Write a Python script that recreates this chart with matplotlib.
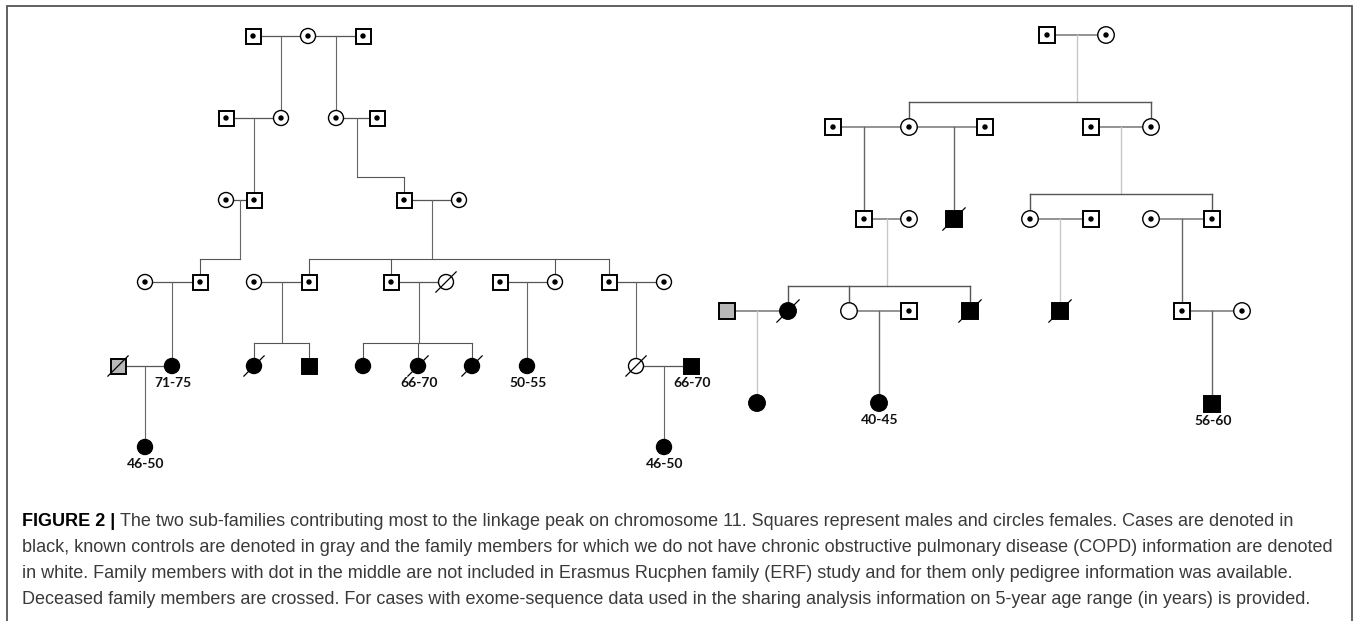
import matplotlib
matplotlib.use('Agg')
import matplotlib.pyplot as plt
from matplotlib.patches import Rectangle, Circle

W, H = 1357, 621

# --- pedigree data -------------------------------------------------------
# status: 'dot' = not in ERF study, 'case', 'control', 'unknown'
person_ids = ['a1', 'a2', 'a3', 'b1', 'b2', 'b3', 'b4', 'c1', 'c2', 'c3', 'c4',
              'd1', 'd2', 'd3', 'd4', 'd5', 'd6', 'd7', 'd8', 'd9', 'd10',
              'e1', 'e2', 'e3', 'e4', 'e5', 'e6', 'e7', 'e8', 'e9', 'e10', 'f1', 'f2',
              'g1', 'g2', 'h1', 'h2', 'h3', 'h4', 'h5',
              'i1', 'i2', 'i3', 'i4', 'i5', 'i6', 'i7',
              'j1', 'j2', 'j3', 'j4', 'j5', 'j6', 'j7', 'j8', 'k1', 'k2', 'k3']
person_sex = ['m', 'f', 'm', 'm', 'f', 'f', 'm', 'f', 'm', 'm', 'f',
              'f', 'm', 'f', 'm', 'm', 'f', 'm', 'f', 'm', 'f',
              'm', 'f', 'f', 'm', 'f', 'f', 'f', 'f', 'f', 'm', 'f', 'f',
              'm', 'f', 'm', 'f', 'm', 'm', 'f',
              'm', 'f', 'm', 'f', 'm', 'f', 'm',
              'm', 'f', 'f', 'm', 'm', 'm', 'm', 'f', 'f', 'f', 'm']
person_status = ['dot'] * 16 + ['unknown'] + ['dot'] * 4 + \
                ['control', 'case', 'case', 'case', 'case', 'case', 'case', 'case',
                 'unknown', 'case', 'case', 'case'] + \
                ['dot'] * 7 + \
                ['dot', 'dot', 'case', 'dot', 'dot', 'dot', 'dot'] + \
                ['control', 'case', 'unknown', 'dot', 'case', 'case', 'dot', 'dot',
                 'case', 'case', 'case']
deceased = ['d6', 'e1', 'e3', 'e6', 'e7', 'e9', 'i3', 'j2', 'j5', 'j6']
age_labels = {'e2': '71-75', 'e6': '66-70', 'e8': '50-55', 'e10': '66-70',
              'f1': '46-50', 'f2': '46-50', 'k2': '40-45', 'k3': '56-60'}

couples = [('a1', 'a2'), ('a2', 'a3'), ('b1', 'b2'), ('b3', 'b4'), ('c1', 'c2'),
           ('c3', 'c4'), ('d1', 'd2'), ('d3', 'd4'), ('d5', 'd6'), ('d7', 'd8'),
           ('d9', 'd10'), ('e1', 'e2'), ('e9', 'e10'),
           ('g1', 'g2'), ('h1', 'h2'), ('h2', 'h3'), ('h4', 'h5'), ('i1', 'i2'),
           ('i4', 'i5'), ('i6', 'i7'), ('j1', 'j2'), ('j3', 'j4'), ('j7', 'j8')]
offspring = {('a1', 'a2'): ['b2'], ('a2', 'a3'): ['b3'], ('b1', 'b2'): ['c2'],
             ('b3', 'b4'): ['c3'], ('c1', 'c2'): ['d2'],
             ('c3', 'c4'): ['d4', 'd5', 'd8', 'd9'], ('d1', 'd2'): ['e2'],
             ('d3', 'd4'): ['e3', 'e4'], ('d5', 'd6'): ['e5', 'e6', 'e7'],
             ('d7', 'd8'): ['e8'], ('d9', 'd10'): ['e9'], ('e1', 'e2'): ['f1'],
             ('e9', 'e10'): ['f2'],
             ('g1', 'g2'): ['h2', 'h5'], ('h1', 'h2'): ['i1'], ('h2', 'h3'): ['i3'],
             ('h4', 'h5'): ['i4', 'i7'], ('i1', 'i2'): ['j2', 'j3', 'j5'],
             ('i4', 'i5'): ['j6'], ('i6', 'i7'): ['j7'], ('j1', 'j2'): ['k1'],
             ('j3', 'j4'): ['k2'], ('j7', 'j8'): ['k3']}

caption_bold = 'FIGURE 2 |'
caption_lines = [
    'The two sub-families contributing most to the linkage peak on chromosome 11. '
    'Squares represent males and circles females. Cases are denoted in',
    'black, known controls are denoted in gray and the family members for which we do '
    'not have chronic obstructive pulmonary disease (COPD) information are denoted',
    'in white. Family members with dot in the middle are not included in Erasmus Rucphen '
    'family (ERF) study and for them only pedigree information was available.',
    'Deceased family members are crossed. For cases with exome-sequence data used in the '
    'sharing analysis information on 5-year age range (in years) is provided.',
]

# --- layout (pixel positions) --------------------------------------------
pos = {
    'a1': (253, 36), 'a2': (308, 36), 'a3': (363, 36),
    'b1': (226, 118), 'b2': (281, 118), 'b3': (336, 118), 'b4': (377, 118),
    'c1': (226, 200), 'c2': (254, 200), 'c3': (404, 200), 'c4': (459, 200),
    'd1': (145, 282), 'd2': (200, 282), 'd3': (254, 282), 'd4': (309, 282),
    'd5': (391, 282), 'd6': (446, 282), 'd7': (500, 282), 'd8': (555, 282),
    'd9': (609, 282), 'd10': (664, 282),
    'e1': (118, 366), 'e2': (172, 366), 'e3': (254, 366), 'e4': (309, 366),
    'e5': (363, 366), 'e6': (418, 366), 'e7': (472, 366), 'e8': (527, 366),
    'e9': (636, 366), 'e10': (691, 366), 'f1': (145, 447), 'f2': (664, 447),
    'g1': (1047, 35), 'g2': (1106, 35),
    'h1': (833, 127), 'h2': (909, 127), 'h3': (985, 127), 'h4': (1091, 127),
    'h5': (1151, 127),
    'i1': (864, 219), 'i2': (909, 219), 'i3': (954, 219), 'i4': (1030, 219),
    'i5': (1091, 219), 'i6': (1151, 219), 'i7': (1212, 219),
    'j1': (727, 311), 'j2': (788, 311), 'j3': (849, 311), 'j4': (909, 311),
    'j5': (970, 311), 'j6': (1060, 311), 'j7': (1182, 311), 'j8': (1242, 311),
    'k1': (757, 403), 'k2': (879, 403), 'k3': (1212, 404),
}
light_desc = {('g1', 'g2'), ('h4', 'h5'), ('i1', 'i2'), ('i4', 'i5'), ('j1', 'j2')}

fig = plt.figure(figsize=(W / 100, H / 100), dpi=100)
ax = fig.add_axes([0, 0, 1, 1])
ax.set_xlim(0, W)
ax.set_ylim(H, 0)
ax.axis('off')

# frame (open at the bottom)
ax.plot([7, 7, 1352, 1352], [H, 6, 6, H], color='#555555', lw=1.3,
        solid_joinstyle='miter', zorder=1)


def is_right(pid):
    return pos[pid][0] > 700


# --- connecting lines ----------------------------------------------------
for p1, p2 in couples:
    (x1, y1), (x2, _) = pos[p1], pos[p2]
    right = is_right(p1)
    mcol = '#8a8a8a' if right else '#555555'
    ax.plot([x1, x2], [y1, y1], color=mcol, lw=1.3 if right else 0.9, zorder=2)
    kids = offspring.get((p1, p2))
    if not kids:
        continue
    dcol = '#c8c8c8' if (p1, p2) in light_desc else '#666666'
    lw = 1.0 if right else 0.8
    kx = [pos[k][0] for k in kids]
    ky = pos[kids[0]][1]
    lo, hi = min(x1, x2), max(x1, x2)
    if len(kids) == 1 and lo < kx[0] < hi:
        ax.plot([kx[0], kx[0]], [y1, ky], color=dcol, lw=lw, zorder=2)
        continue
    dx = (x1 + x2) / 2
    ysib = ky - (25 if right else 23)
    ax.plot([dx, dx], [y1, ysib], color=dcol, lw=lw, zorder=2)
    ax.plot([min(kx + [dx]), max(kx + [dx])], [ysib, ysib], color='#555555',
            lw=lw, zorder=2)
    for x in kx:
        ax.plot([x, x], [ysib, ky], color='#555555', lw=lw, zorder=2)

# --- symbols --------------------------------------------------------------
fills = {'dot': 'white', 'case': 'black', 'control': '#b8b8b8', 'unknown': 'white'}
for pid, sex, status in zip(person_ids, person_sex, person_status):
    x, y = pos[pid]
    s = 16.5 if is_right(pid) else 15
    h = s / 2
    if sex == 'm':
        ax.add_patch(Rectangle((x - h, y - h), s, s, facecolor=fills[status],
                               edgecolor='black', lw=1.4, zorder=3))
    else:
        ax.add_patch(Circle((x, y), h, facecolor=fills[status],
                            edgecolor='black', lw=1.0, zorder=3))
    if status == 'dot':
        ax.add_patch(Circle((x, y), 2.7, facecolor='black', edgecolor='none',
                            zorder=4))
    if pid in deceased:
        d = h * 1.35
        ax.plot([x - d, x + d], [y + d, y - d], color='black', lw=0.9, zorder=4)
    if pid in age_labels:
        ax.text(x + 1, y + 17, age_labels[pid], ha='center', va='center',
                fontsize=10, fontweight='bold', family='Lato', color='#111111',
                zorder=5)

# --- caption ---------------------------------------------------------------
renderer = fig.canvas.get_renderer()
probe = ax.text(0, 300, caption_lines[1], fontsize=10, family='Liberation Sans')
w10 = probe.get_window_extent(renderer).width
probe.remove()
fs = 10 * (1338 - 22) / w10

line_y = [521, 547, 573, 599]
bold = ax.text(22, line_y[0], caption_bold, fontsize=fs, fontweight='bold',
               family='Liberation Sans', color='black', va='center')
bx = bold.get_window_extent(renderer).x1
for i, (txt, y) in enumerate(zip(caption_lines, line_y)):
    x0 = bx + 5 if i == 0 else 22
    ax.text(x0, y, txt, fontsize=fs, family='Liberation Sans', color='#3a3a3a',
            va='center')

fig.savefig('out.png', dpi=100)
